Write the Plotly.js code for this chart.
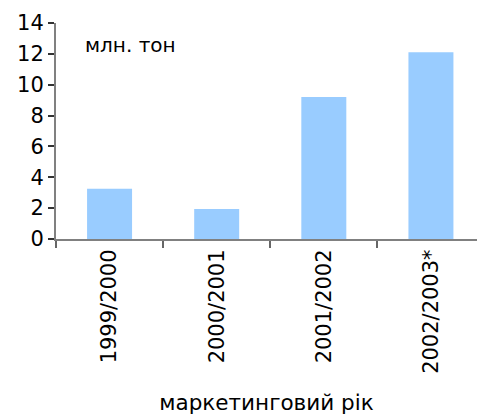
<!DOCTYPE html>
<html>
<head>
<meta charset="utf-8">
<script src="https://cdn.plot.ly/plotly-3.0.1.min.js"></script>
<style>html,body{margin:0;padding:0;background:#fff;}#chart{width:477px;height:416px;}</style>
</head>
<body>
<div id="chart"></div>
<script>
const categories = ["1999/2000", "2000/2001", "2001/2002", "2002/2003*"];
const values = [3.25, 1.95, 9.2, 12.1];
const unitLabel = "млн. тон";
const xTitle = "маркетинговий рік";

const trace = {
  type: "bar",
  x: categories,
  y: values,
  marker: {color: "#99ccff", line: {width: 0}},
  hoverinfo: "x+y"
};

const layout = {
  width: 477,
  height: 416,
  margin: {l: 56, r: 0, t: 23, b: 177},
  paper_bgcolor: "#ffffff",
  plot_bgcolor: "#ffffff",
  font: {family: "DejaVu Sans, Verdana, sans-serif", size: 21, color: "#000"},
  bargap: 0.58,
  showlegend: false,
  xaxis: {
    type: "category",
    range: [-0.5, 3.43],
    tickangle: -90,
    tickson: "boundaries",
    ticks: "outside",
    ticklen: 7,
    tickwidth: 2,
    tickcolor: "#666",
    showline: true,
    linecolor: "#808080",
    linewidth: 2,
    showgrid: false,
    zeroline: false,
    tickfont: {size: 21},
    title: {text: xTitle, font: {size: 21.5}, standoff: 22}
  },
  yaxis: {
    range: [0, 14],
    dtick: 2,
    ticks: "outside",
    ticklen: 6,
    tickwidth: 2,
    tickcolor: "#333",
    showline: true,
    linecolor: "#808080",
    linewidth: 2,
    showgrid: false,
    zeroline: false,
    tickfont: {size: 21}
  },
  annotations: [{
    text: unitLabel,
    xref: "paper", yref: "paper",
    x: 0.064, y: 0.898,
    xanchor: "left", yanchor: "middle",
    showarrow: false,
    font: {size: 20}
  }]
};

Plotly.newPlot("chart", [trace], layout, {staticPlot: true, displayModeBar: false});
</script>
</body>
</html>
